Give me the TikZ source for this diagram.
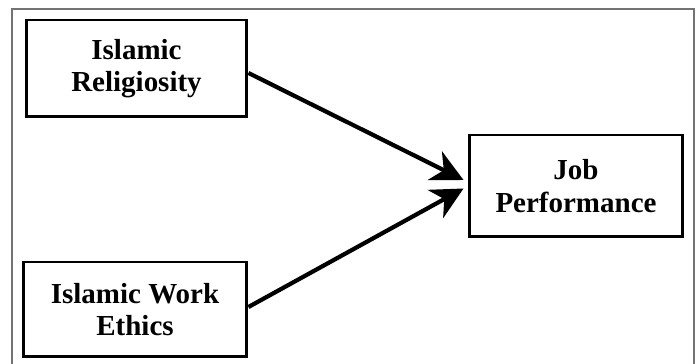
\documentclass[tikz,border=0pt]{standalone}
\usepackage{fontspec}
\setmainfont{Liberation Serif}
\usetikzlibrary{arrows.meta}
\tikzset{
    varbox/.style={draw, line width=1.7pt, align=center, font=\fontsize{16.5}{18.4}\selectfont\bfseries, inner sep=0pt},
    conn/.style={line width=2.4pt, -{Stealth[length=0.64cm, width=0.64cm, inset=0.2cm]}}
}
\begin{document}
\begin{tikzpicture}[x=0.02cm,y=-0.02cm]
    \useasboundingbox (0,0) rectangle (698,364);
    \draw[black!55, line width=0.7pt] (12,364)--(12,9)--(694,9)--(694,364);
    \node[varbox, minimum width=4.42cm, minimum height=1.94cm] (ir) at (136.5,68.5) {Islamic\\Religiosity};
    \node[varbox, minimum width=4.48cm, minimum height=1.90cm] (iwe) at (135,309.5) {Islamic Work\\Ethics};
    \node[varbox, minimum width=4.28cm, minimum height=2.04cm] (jp) at (576,186) {Job\\Performance};
    \draw[conn] ([yshift=-0.09cm]ir.east) -- ([xshift=-0.08cm,yshift=0.12cm]jp.west);
    \draw[conn] ([yshift=0.05cm]iwe.east) -- ([xshift=-0.08cm,yshift=-0.05cm]jp.west);
\end{tikzpicture}
\end{document}
